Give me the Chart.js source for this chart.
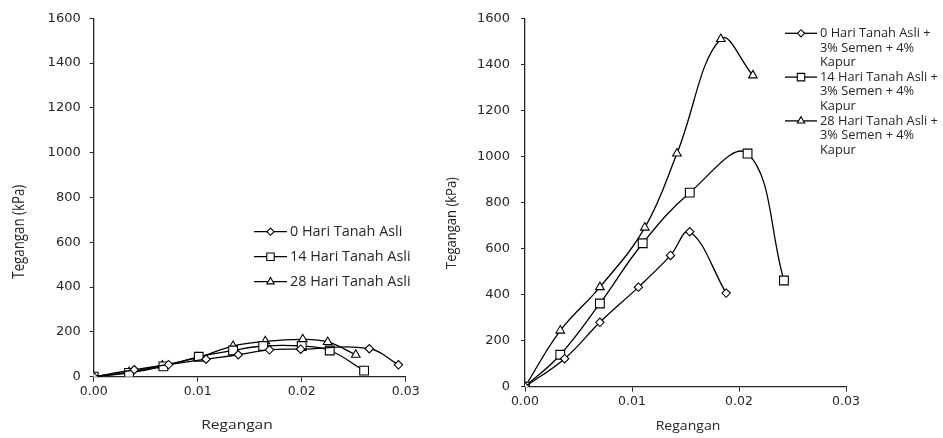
<!DOCTYPE html>
<html>
<head>
<meta charset="utf-8">
<script src="https://cdn.jsdelivr.net/npm/chart.js@4"></script>
<style>
  html, body { margin: 0; padding: 0; background: #fff; }
  body { width: 943px; height: 438px; position: relative; overflow: hidden; }
  .panel { position: absolute; top: 0; }
  #chartLeft { left: 0; }
  #chartRight { left: 440px; }
</style>
</head>
<body>
<canvas class="panel" id="chartLeft" width="440" height="438"></canvas>
<canvas class="panel" id="chartRight" width="503" height="438"></canvas>
<script>
// Tanah asli (untreated soil)
const strain0 = [0, 0.0039, 0.0072, 0.0108, 0.0139, 0.0169, 0.0199, 0.0265, 0.0293];
const stress0 = [0, 31, 54, 78, 98, 120, 123, 125, 53];
const strain14 = [0, 0.0034, 0.0067, 0.0101, 0.0134, 0.0163, 0.0200, 0.0227, 0.0260];
const stress14 = [0, 17, 46, 89, 117, 137, 137, 117, 27];
const strain28 = [0, 0.0034, 0.0066, 0.0100, 0.0134, 0.0165, 0.0201, 0.0225, 0.0252];
const stress28 = [0, 20, 50, 86, 137, 158, 167, 155, 98];

// Tanah asli + 3% semen + 4% kapur
const strainMix0 = [0, 0.0037, 0.0070, 0.0106, 0.0136, 0.0154, 0.0188];
const stressMix0 = [0, 122, 280, 433, 571, 674, 407];
const strainMix14 = [0, 0.0033, 0.0070, 0.0110, 0.0154, 0.0208, 0.0242];
const stressMix14 = [0, 139, 362, 624, 844, 1014, 462];
const strainMix28 = [0, 0.0033, 0.0070, 0.0112, 0.0142, 0.0183, 0.0213];
const stressMix28 = [0, 244, 433, 692, 1014, 1512, 1354];

const leftLabels = [['0 Hari Tanah Asli'], ['14 Hari Tanah Asli'], ['28 Hari Tanah Asli']];
const rightLabels = [
  ['0 Hari Tanah Asli +', '3% Semen + 4%', 'Kapur'],
  ['14 Hari Tanah Asli +', '3% Semen + 4%', 'Kapur'],
  ['28 Hari Tanah Asli +', '3% Semen + 4%', 'Kapur']
];
const xTicks = [0, 0.01, 0.02, 0.03];
const yMax = 1600;
const xTitle = 'Regangan';
const yTitle = 'Tegangan (kPa)';

const textColor = '#262626';
const axisColor = '#262626';
const FONT = '"Open Sans", sans-serif';
const TICK_FONT = '"DejaVu Sans", sans-serif';
const markers = [
  { pointStyle: 'rectRot', radius: 4.2 },
  { pointStyle: 'rect', radius: 6.2 },
  { pointStyle: 'triangle', radius: 5 }
];

const toPoints = (xs, ys) => xs.map((x, i) => ({ x: x, y: ys[i] }));

function makeDatasets(series, labels) {
  return series.map((s, i) => ({
    label: labels[i].join(' '),
    lines: labels[i],
    data: toPoints(s[0], s[1]),
    showLine: true,
    tension: 0.4,
    borderColor: '#000',
    borderWidth: 1.3,
    pointStyle: markers[i].pointStyle,
    pointRadius: markers[i].radius,
    pointBackgroundColor: '#fff',
    pointBorderColor: '#000',
    pointBorderWidth: 1.1
  }));
}

// text widened along its own baseline
function wideText(ctx, text, x, y, size, stretch, angle) {
  ctx.save();
  ctx.translate(x, y);
  ctx.rotate(angle);
  ctx.scale(1, 1);
  ctx.font = size + 'px ' + FONT;
  if (angle) ctx.scale(1, stretch); else ctx.scale(stretch, 1);
  ctx.fillText(text, 0, 0);
  ctx.restore();
}

// axis titles and legend, placed by the panel options
const panelText = {
  id: 'panelText',
  afterDraw(chart, args, opts) {
    const ctx = chart.ctx;
    ctx.save();
    ctx.fillStyle = textColor;
    ctx.textAlign = 'center';
    ctx.textBaseline = 'middle';
    wideText(ctx, xTitle, opts.xTitleAt[0], opts.xTitleAt[1], opts.titleSize, opts.stretch, 0);
    wideText(ctx, yTitle, opts.yTitleAt[0], opts.yTitleAt[1], opts.titleSize, opts.stretch, -Math.PI / 2);

    const lg = opts.legend;
    ctx.font = lg.size + 'px ' + FONT;
    ctx.textAlign = 'left';
    chart.data.datasets.forEach((ds, i) => {
      const y = lg.top + i * lg.rowGap;
      ctx.strokeStyle = '#000';
      ctx.lineWidth = 1.3;
      ctx.beginPath();
      ctx.moveTo(lg.lineFrom, y);
      ctx.lineTo(lg.lineTo, y);
      ctx.stroke();
      ctx.fillStyle = '#fff';
      ctx.lineWidth = 1.1;
      Chart.helpers.drawPoint(ctx, {
        pointStyle: ds.pointStyle, radius: ds.pointRadius * 0.85, rotation: 0, borderWidth: 1.1
      }, (lg.lineFrom + lg.lineTo) / 2, y);
      ctx.fillStyle = textColor;
      ds.lines.forEach((t, k) => ctx.fillText(t, lg.textX, y + k * lg.lineGap));
    });
    ctx.restore();
  }
};

function makeChart(id, datasets, box, text) {
  return new Chart(document.getElementById(id), {
    type: 'scatter',
    data: { datasets: datasets },
    plugins: [panelText],
    options: {
      responsive: false,
      animation: false,
      layout: { padding: { left: 0, top: box.top, right: box.right, bottom: 0 } },
      plugins: {
        legend: { display: false },
        tooltip: { enabled: false },
        panelText: text
      },
      scales: {
        x: {
          type: 'linear',
          min: 0,
          max: 0.03,
          afterBuildTicks: s => { s.ticks = xTicks.map(v => ({ value: v })); },
          afterFit: s => { s.height = box.xHeight; },
          ticks: {
            color: textColor,
            padding: 3,
            font: { family: TICK_FONT, size: 12.5 },
            callback: v => Number(v).toFixed(2)
          },
          grid: { drawOnChartArea: false, drawTicks: true, tickLength: 5, color: axisColor },
          border: { color: axisColor, width: 1.3 }
        },
        y: {
          type: 'linear',
          min: 0,
          max: yMax,
          afterFit: s => { s.width = box.yWidth; },
          ticks: {
            stepSize: 200,
            color: textColor,
            padding: box.yPad,
            font: { family: TICK_FONT, size: 13 },
            callback: v => String(v)
          },
          grid: { drawOnChartArea: false, drawTicks: true, tickLength: 4, color: axisColor },
          border: { color: axisColor, width: 1.3 }
        }
      }
    }
  });
}

makeChart('chartLeft',
  makeDatasets([[strain0, stress0], [strain14, stress14], [strain28, stress28]], leftLabels),
  { top: 18.3, right: 34.3, xHeight: 61.3, yWidth: 93.7, yPad: 9 },
  {
    titleSize: 13.3, stretch: 1.17,
    xTitleAt: [237, 425],
    yTitleAt: [20, 231.7],
    legend: { top: 231.7, rowGap: 25, lineGap: 0, lineFrom: 254, lineTo: 287, textX: 290, size: 14.4 }
  });

makeChart('chartRight',
  makeDatasets([[strainMix0, stressMix0], [strainMix14, stressMix14], [strainMix28, stressMix28]], rightLabels),
  { top: 15, right: 97, xHeight: 51.3, yWidth: 85, yPad: 11 },
  {
    titleSize: 13, stretch: 1.08,
    xTitleAt: [248, 426.5],
    yTitleAt: [12, 223],
    legend: { top: 33.3, rowGap: 43.8, lineGap: 14.6, lineFrom: 345, lineTo: 377, textX: 380, size: 12.8 }
  });
</script>
</body>
</html>
